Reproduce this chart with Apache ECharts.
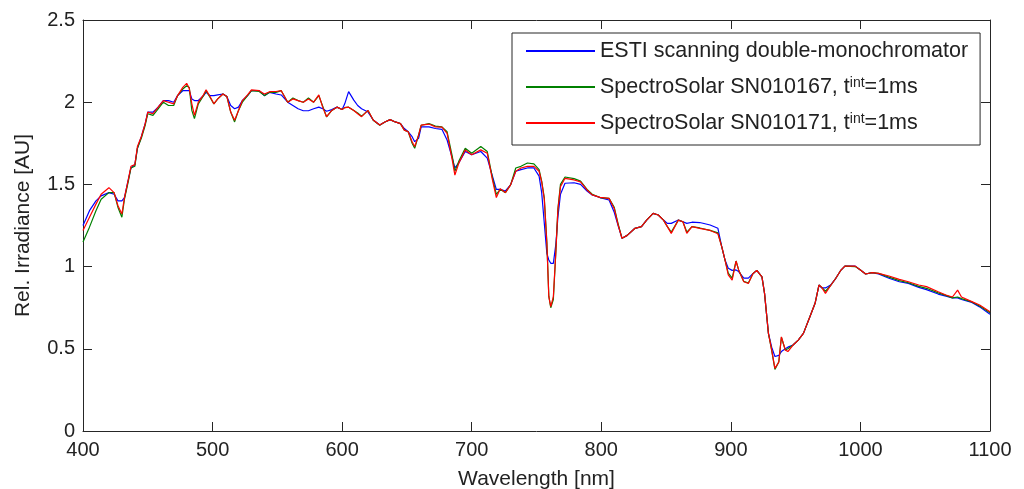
<!DOCTYPE html>
<html>
<head>
<meta charset="utf-8">
<script src="https://cdn.jsdelivr.net/npm/echarts@6/dist/echarts.min.js"></script>
<style>
  html, body { margin: 0; padding: 0; background: #fff; }
  #main { width: 1024px; height: 489px; }
</style>
</head>
<body>
<div id="main"></div>
<script>
// wavelength [nm]
var wavelength = [400,405,410,414,420,424,427,430,432,435,437,440,442,445,448,450,454,458,462,466,470,473,477,480,482,484,486,489,493,495,498,501,504,508,511,514,517,520,523,527,530,536,540,544,549,553,558,562,566,570,574,578,582,585,588,592,596,600,602,605,609,612,615,620,624,629,633,637,641,645,648,651,654,656,659,661,667,672,677,681,685,687,690,695,700,707,712,716,719,722,726,730,734,738,743,748,752,754,756,758,759.5,761,763,765,766.5,768.5,772,779,784,789,793,799,806,810,813,816,820,826,831,835,840,844,848,851,854,859.5,863,866,870,876,884,890,893,895.5,898,901,904,906,910,913.5,917,920,924,926,929,931.5,934,937,939,942,944,948,952,956,961,965,968,970,973,977,981,985,988,996,1000,1004,1009,1014,1022,1030,1037,1045,1051,1060,1066,1071,1075,1078,1086,1092,1100];

// ESTI scanning double-monochromator (blau)
var esti = [1.25,1.34,1.40,1.43,1.45,1.44,1.40,1.40,1.42,1.53,1.60,1.62,1.72,1.79,1.87,1.94,1.94,1.97,2.01,2.01,2.00,2.04,2.07,2.07,2.07,2.02,2.01,2.01,2.04,2.06,2.04,2.04,2.045,2.05,2.035,1.98,1.96,1.97,2.01,2.04,2.07,2.07,2.04,2.06,2.05,2.044,2.00,1.98,1.96,1.948,1.948,1.96,1.97,1.96,1.945,1.955,1.97,1.956,1.99,2.064,2.013,1.98,1.96,1.94,1.892,1.861,1.88,1.894,1.88,1.87,1.84,1.82,1.79,1.76,1.78,1.85,1.85,1.84,1.835,1.77,1.66,1.60,1.63,1.70,1.68,1.70,1.66,1.55,1.47,1.47,1.46,1.497,1.58,1.59,1.60,1.60,1.55,1.45,1.265,1.08,1.04,1.02,1.02,1.14,1.30,1.44,1.507,1.51,1.50,1.46,1.436,1.42,1.405,1.33,1.25,1.172,1.19,1.233,1.243,1.283,1.324,1.314,1.283,1.263,1.263,1.283,1.273,1.263,1.27,1.268,1.253,1.233,1.12,1.04,0.99,0.977,0.98,0.97,0.93,0.93,0.957,0.977,0.937,0.837,0.594,0.51,0.453,0.46,0.483,0.50,0.51,0.523,0.553,0.594,0.695,0.777,0.888,0.87,0.87,0.888,0.929,0.979,1.003,1.003,0.979,0.955,0.963,0.955,0.929,0.908,0.898,0.874,0.86,0.833,0.82,0.81,0.81,0.80,0.782,0.755,0.71];

// SpectroSolar SN010167 (gruen)
var sn167 = [1.15,1.24,1.34,1.41,1.45,1.45,1.36,1.30,1.41,1.52,1.60,1.61,1.72,1.78,1.86,1.93,1.92,1.96,2.00,1.98,1.98,2.04,2.08,2.10,2.09,1.95,1.90,1.99,2.04,2.07,2.03,1.99,2.02,2.05,2.035,1.94,1.88,1.95,2.00,2.04,2.07,2.065,2.04,2.06,2.06,2.07,2.00,2.025,2.01,2.00,2.025,2.00,2.04,1.975,1.91,1.95,1.97,1.956,1.967,1.97,1.95,1.935,1.915,1.95,1.89,1.86,1.88,1.894,1.88,1.87,1.83,1.82,1.75,1.72,1.80,1.86,1.87,1.855,1.85,1.82,1.67,1.58,1.64,1.72,1.69,1.73,1.70,1.54,1.44,1.47,1.45,1.497,1.60,1.61,1.63,1.625,1.59,1.52,1.42,1.15,0.82,0.75,0.80,1.10,1.35,1.50,1.545,1.535,1.52,1.47,1.44,1.42,1.415,1.36,1.26,1.172,1.19,1.233,1.243,1.283,1.324,1.314,1.283,1.243,1.21,1.283,1.273,1.21,1.243,1.235,1.22,1.205,1.12,1.04,0.96,0.93,1.034,0.98,0.91,0.90,0.957,0.977,0.937,0.837,0.594,0.49,0.375,0.42,0.57,0.493,0.50,0.523,0.553,0.594,0.695,0.777,0.888,0.875,0.85,0.885,0.929,0.979,1.003,1.0,0.979,0.955,0.963,0.959,0.936,0.915,0.902,0.88,0.868,0.84,0.825,0.81,0.815,0.805,0.785,0.76,0.72];

// SpectroSolar SN010171 (rot)
var sn171 = [1.22,1.30,1.38,1.44,1.48,1.45,1.37,1.32,1.42,1.53,1.61,1.62,1.73,1.79,1.87,1.94,1.93,1.97,2.01,2.00,1.99,2.04,2.09,2.115,2.085,1.99,1.92,2.00,2.045,2.075,2.035,1.99,2.02,2.05,2.035,1.94,1.89,1.95,2.01,2.045,2.075,2.07,2.05,2.064,2.065,2.07,2.00,2.02,2.01,2.00,2.02,2.00,2.044,1.97,1.912,1.95,1.97,1.956,1.967,1.97,1.95,1.93,1.912,1.95,1.892,1.861,1.88,1.894,1.88,1.87,1.83,1.82,1.76,1.73,1.80,1.861,1.867,1.85,1.848,1.81,1.648,1.557,1.628,1.709,1.68,1.71,1.69,1.527,1.42,1.474,1.45,1.497,1.58,1.60,1.61,1.61,1.58,1.516,1.41,1.14,0.817,0.756,0.817,1.10,1.344,1.486,1.537,1.527,1.515,1.466,1.436,1.421,1.415,1.354,1.253,1.172,1.19,1.233,1.243,1.283,1.324,1.314,1.283,1.243,1.202,1.283,1.273,1.202,1.243,1.233,1.22,1.20,1.12,1.04,0.949,0.918,1.034,0.98,0.908,0.897,0.957,0.977,0.937,0.837,0.594,0.493,0.381,0.42,0.573,0.493,0.483,0.523,0.553,0.594,0.695,0.777,0.888,0.875,0.837,0.885,0.929,0.979,1.003,1.003,0.979,0.955,0.963,0.959,0.943,0.922,0.908,0.888,0.878,0.847,0.827,0.815,0.857,0.815,0.787,0.766,0.726];

var xTicks = [400, 1100, 100];   // min, max, interval
var yTicks = [0, 2.5, 0.5];

var seriesNames = [
    'ESTI scanning double-monochromator',
    'SpectroSolar SN010167, t^int=1ms',
    'SpectroSolar SN010171, t^int=1ms'
];
var seriesColors = ['#0000ff', '#008000', '#ff0000'];

function pairs(ys) {
    var out = [];
    for (var i = 0; i < wavelength.length; i++) {
        out.push([wavelength[i], ys[i]]);
    }
    return out;
}

var font = '"Liberation Sans", Arial, sans-serif';
var textColor = '#222222';
var axisColor = '#262626';

var tickStyle = { show: true, inside: true, length: 9, lineStyle: { color: axisColor, width: 1 } };

var myChart = echarts.init(document.getElementById('main'), null, { renderer: 'canvas' });

var allData = [esti, sn167, sn171];
var series = [];
for (var s = 0; s < 3; s++) {
    series.push({
        name: seriesNames[s],
        type: 'line',
        data: pairs(allData[s]),
        showSymbol: false,
        symbol: 'none',
        color: seriesColors[s],
        lineStyle: { color: seriesColors[s], width: 1.2 },
        xAxisIndex: 0,
        yAxisIndex: 0,
        z: 2 + s
    });
}

var option = {
    animation: false,
    backgroundColor: '#ffffff',
    grid: { left: 83, right: 34, top: 20, bottom: 58, containLabel: false, outerBoundsMode: 'none' },
    legend: {
        orient: 'vertical',
        left: 512,
        top: 33,
        padding: [7, 12, 11, 14],
        itemGap: 14,
        itemWidth: 69,
        itemHeight: 2,
        icon: 'rect',
        borderColor: axisColor,
        borderWidth: 1,
        backgroundColor: '#ffffff',
        selectedMode: false,
        data: seriesNames,
        formatter: function (name) {
            return name.replace('t^int', 't{sup|int}');
        },
        textStyle: {
            fontFamily: font,
            fontSize: 21.5,
            color: textColor,
            lineHeight: 22,
            rich: {
                sup: { fontFamily: font, fontSize: 14, color: textColor, verticalAlign: 'top', lineHeight: 22 }
            }
        }
    },
    xAxis: [
        {
            type: 'value',
            min: xTicks[0], max: xTicks[1], interval: xTicks[2],
            name: 'Wavelength [nm]',
            nameLocation: 'middle',
            nameGap: 38,
            nameTextStyle: { fontFamily: font, fontSize: 21, color: textColor },
            axisLine: { show: true, onZero: false, lineStyle: { color: axisColor, width: 1 } },
            axisTick: tickStyle,
            axisLabel: {
                fontFamily: font, fontSize: 20, color: textColor, margin: 9,
                formatter: function (v) { return String(v); }
            },
            splitLine: { show: false }
        },
        {
            type: 'value',
            position: 'top',
            min: xTicks[0], max: xTicks[1], interval: xTicks[2],
            axisLine: { show: true, onZero: false, lineStyle: { color: axisColor, width: 1 } },
            axisTick: tickStyle,
            axisLabel: { show: false },
            splitLine: { show: false }
        }
    ],
    yAxis: [
        {
            type: 'value',
            min: yTicks[0], max: yTicks[1], interval: yTicks[2],
            name: 'Rel. Irradiance [AU]',
            nameLocation: 'middle',
            nameGap: 49,
            nameTextStyle: { fontFamily: font, fontSize: 21, color: textColor },
            axisLine: { show: true, onZero: false, lineStyle: { color: axisColor, width: 1 } },
            axisTick: tickStyle,
            axisLabel: { fontFamily: font, fontSize: 20, color: textColor, margin: 8 },
            splitLine: { show: false }
        },
        {
            type: 'value',
            position: 'right',
            min: yTicks[0], max: yTicks[1], interval: yTicks[2],
            axisLine: { show: true, onZero: false, lineStyle: { color: axisColor, width: 1 } },
            axisTick: tickStyle,
            axisLabel: { show: false },
            splitLine: { show: false }
        }
    ],
    series: series
};

myChart.setOption(option);
</script>
</body>
</html>
